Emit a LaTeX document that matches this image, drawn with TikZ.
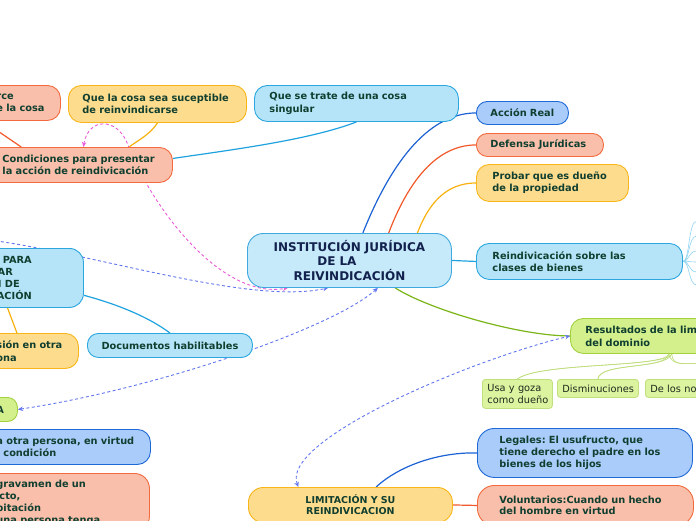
\documentclass[tikz,border=0pt]{standalone}
\usepackage{fontspec}
\setmainfont{DejaVu Sans}
\usetikzlibrary{arrows.meta}
\pgfdeclarelayer{bg}
\pgfsetlayers{bg,main}
\frenchspacing
\definecolor{tcol}{HTML}{103F30}
\definecolor{navy}{HTML}{12214D}
\definecolor{subt}{HTML}{1E2A1E}
\definecolor{cyF}{HTML}{B5E4F9}\definecolor{cyD}{HTML}{2BA6DE}
\definecolor{ceF}{HTML}{C6EAF9}\definecolor{ceD}{HTML}{3FA9DF}
\definecolor{blF}{HTML}{A9CCFB}\definecolor{blD}{HTML}{1F69D6}
\definecolor{saF}{HTML}{F9BFAA}\definecolor{saD}{HTML}{F26A3D}
\definecolor{yeF}{HTML}{FEDC8E}\definecolor{yeD}{HTML}{F9B61A}
\definecolor{grF}{HTML}{D3F08D}\definecolor{grD}{HTML}{A2D13E}
\definecolor{sbF}{HTML}{DCF3A0}\definecolor{sbD}{HTML}{C0E07E}
\definecolor{cBlue}{HTML}{1D62D3}
\definecolor{cRed}{HTML}{F15A2B}
\definecolor{cYel}{HTML}{F9B10F}
\definecolor{cCyan}{HTML}{1FA3E0}
\definecolor{cGreen}{HTML}{7CB518}
\definecolor{cFan}{HTML}{8ED4F3}
\definecolor{cBr}{HTML}{BEDD78}
\definecolor{dBlue}{HTML}{6276F0}
\definecolor{dPink}{HTML}{E95BD8}
\newcommand\nb[1]{\mbox{#1}}
\begin{document}
\frenchspacing
\begin{tikzpicture}[x=1pt,y=-1pt,
  bx/.style={draw, line width=0.9pt, anchor=north west, align=left, inner ysep=0pt, text=tcol,
    font=\bfseries\fontsize{9.8pt}{12.5pt}\selectfont, rounded corners=13pt},
  cyB/.style={fill=cyF, draw=cyD},
  ceB/.style={fill=ceF, draw=ceD},
  blB/.style={fill=blF, draw=blD},
  saB/.style={fill=saF, draw=saD},
  yeB/.style={fill=yeF, draw=yeD},
  grB/.style={fill=grF, draw=grD},
  sub/.style={draw=sbD, fill=sbF, line width=0.8pt, rounded corners=3pt, anchor=north west,
    align=left, inner xsep=5pt, inner ysep=0pt, text=subt, font=\fontsize{9.8pt}{12pt}\selectfont},
  conn/.style={line width=1.2pt},
  dsh/.style={line width=0.9pt, dash pattern=on 3pt off 2.5pt},
  tip/.style={-{Stealth[length=5pt,width=4.5pt]}},
  tips/.style={{Stealth[length=5pt,width=4.5pt]}-{Stealth[length=5pt,width=4.5pt]}},
  fanl/.style={draw=cFan, line width=0.6pt},
  brl/.style={draw=cBr, line width=0.6pt}
]
\useasboundingbox (0,0) rectangle (696,520);
\begin{pgfonlayer}{bg}
\fill[white] (0,0) rectangle (696,520);
\end{pgfonlayer}

% nodes
\node[bx,saB,minimum width=77pt,minimum height=35pt,text width=51pt,inner xsep=13pt] (rce) at (-17,85) {rce\\e la cosa};
\node[bx,yeB,minimum width=178pt,minimum height=37pt,text width=150pt,inner xsep=14pt] (cosa) at (68,85) {\nb{Que la cosa sea suceptible}\\de reinvindicarse};
\node[bx,cyB,minimum width=204pt,minimum height=36pt,text width=174pt,inner xsep=15pt] (trate) at (254,85) {Que se trate de una cosa\\singular};
\node[bx,saB,minimum width=185pt,minimum height=35pt,text width=155pt,inner xsep=15pt] (cond) at (-13,147) {\nb{Condiciones para presentar}\\\nb{la acción de reindivicación}};

\node[bx,blB,minimum width=92pt,minimum height=23pt,text width=64pt,inner xsep=14pt,rounded corners=11pt] (acc) at (476,101) {\nb{Acción Real}};
\node[bx,saB,minimum width=127pt,minimum height=23pt,text width=99pt,inner xsep=14pt,rounded corners=11pt] (def) at (476,133) {\nb{Defensa Jurídicas}};
\node[bx,yeB,minimum width=152pt,minimum height=37pt,text width=120pt,inner xsep=16pt] (prob) at (476,164) {\nb{Probar que es dueño}\\de la propiedad};
\node[bx,cyB,minimum width=206pt,minimum height=36pt,text width=174pt,inner xsep=16pt] (rein) at (476,243) {\nb{Reindivicación sobre las}\\clases de bienes};
\node[bx,grB,minimum width=200pt,minimum height=35pt,text width=170pt,inner xsep=15pt] (res) at (570,318) {\nb{Resultados de la limitación}\\del dominio};
\node[sub,minimum width=70pt,minimum height=29pt,text width=60pt] (usa) at (482,379) {\nb{Usa y goza}\\\nb{como dueño}};
\node[sub,minimum width=81pt,minimum height=18pt,text width=71pt] (dis) at (557,379) {\nb{Disminuciones}};
\node[sub,minimum width=120pt,minimum height=18pt,text width=110pt] (delos) at (645,379) {De los no};

\node[bx,ceB,text=navy,align=center,font=\bfseries\fontsize{12pt}{14.5pt}\selectfont,minimum width=204pt,minimum height=54pt,text width=188pt,inner xsep=8pt,rounded corners=16pt] (cent) at (247,233) {INSTITUCIÓN JURÍDICA\\\mbox{DE LA\hspace{25pt}}\\REIVINDICACIÓN};

\node[bx,cyB,minimum width=120pt,minimum height=59pt,rounded corners=14pt] (req) at (-37,248) {};
\node[anchor=east,align=right,inner sep=0pt,text=tcol,font=\bfseries\fontsize{9.8pt}{12pt}\selectfont] (reqt) at (32,278) {PARA\\\mbox{AR\hspace{19pt}}\\\mbox{N DE\hspace{12pt}}\\ACIÓN};

\node[bx,yeB,minimum width=95pt,minimum height=35pt,text width=69pt,inner xsep=13pt] (pos) at (-17,333) {\nb{sión en otra}\\ona};
\node[bx,grB,minimum width=34pt,minimum height=24pt,text width=8pt,inner xsep=13pt,rounded corners=10pt] (abox) at (-17,397) {A};
\node[bx,blB,minimum width=167pt,minimum height=35pt,text width=141pt,inner xsep=13pt] (otra) at (-17,429) {\nb{a otra persona, en virtud}\\\hspace*{7pt}condición};
\node[bx,saB,font=\bfseries\fontsize{9.8pt}{12pt}\selectfont,minimum width=166pt,minimum height=58pt,text width=140pt,inner xsep=13pt,rounded corners=15pt] (grav) at (-17,473) {gravamen de un\\\hspace*{3pt}cto,\\bitación\\\nb{una persona tenga}};
\node[bx,cyB,align=center,minimum width=165pt,minimum height=24pt,text width=139pt,inner xsep=13pt,rounded corners=11pt] (doc) at (87,333) {\nb{Documentos habilitables}};

\node[bx,yeB,align=center,font=\bfseries\fontsize{9.5pt}{11pt}\selectfont,minimum width=204pt,minimum height=35pt,text width=180pt,inner xsep=12pt,rounded corners=15pt] (lim) at (248,487) {LIMITACIÓN Y SU\\REINDIVICACION};
\node[bx,blB,font=\bfseries\fontsize{9.8pt}{11.7pt}\selectfont,minimum width=215pt,minimum height=49pt,text width=171pt,inner xsep=22pt,rounded corners=17pt] (leg) at (477,428) {\nb{Legales: El usufructo, que}\\\nb{tiene derecho el padre en los}\\bienes de los hijos};
\node[bx,saB,font=\bfseries\fontsize{9.8pt}{11.7pt}\selectfont,minimum width=216pt,minimum height=40pt,text width=172pt,inner xsep=22pt,rounded corners=17pt] (vol) at (477,485) {\nb{Voluntarios:Cuando un hecho}\\del hombre en virtud};

\coordinate (lfar) at (-10,240);
\coordinate (brR1) at (700,364);

\begin{pgfonlayer}{bg}
% solid connectors
\draw[conn,cBlue] (cent.64) .. controls (388,170) and (425,113) .. (acc.west);
\draw[conn,cRed] (cent.35) .. controls (405,190) and (432,145) .. (def.west);
\draw[conn,cYel] (cent.22) .. controls (428,205) and (445,183) .. (prob.west);
\draw[conn,cCyan] (cent.east) -- (rein.west);
\draw[conn,cGreen] (cent.-31.5) .. controls (430,310) and (520,336) .. (res.west);
\draw[conn,cCyan] (cond.4) .. controls (230,150) and (310,140) .. (trate.south);
\draw[conn,cYel] (cosa.south) .. controls (150,135) and (135,142) .. (cond.20);
\draw[conn,cRed] (rce.south west) -- (cond.163);
\draw[conn,cCyan] (req.-16) .. controls (120,305) and (150,318) .. (doc.north);
\draw[conn,cYel] (req.-118) -- (pos.128);
\draw[conn,cBlue] (lim.35) .. controls (400,465) and (440,452) .. (leg.west);
\draw[conn,cRed] (lim.east) -- (vol.west);
% fan
\foreach \yy in {221,236,251,262,272,285}
  \draw[fanl] (rein.east) .. controls (690,261) and (688,\yy) .. (697,\yy);
% branches
\foreach \dx in {-1.5,1.5} {
  \draw[brl] ([xshift=\dx pt]res.south) .. controls (665,368) and (540,362) .. (usa.north);
  \draw[brl] ([xshift=\dx pt]res.south) .. controls (666,370) and (600,362) .. (dis.north);
  \draw[brl] ([xshift=\dx pt]res.south) .. controls (672,368) and (688,362) .. (brR1);
}
% dashed relations
\draw[dsh,dPink,tips] (cond.79) .. controls (88,117) and (118,117) .. (128,145) .. controls (150,204) and (220,300) .. (cent.-156);
\draw[dsh,dBlue,tip] (lfar) .. controls (100,255) and (250,305) .. (cent.-128);
\draw[dsh,dBlue,tips] (abox.east) .. controls (150,390) and (330,330) .. (cent.-44);
\draw[dsh,dBlue,tips] (lim.161) .. controls (280,440) and (470,360) .. (res.west);
\end{pgfonlayer}
\end{tikzpicture}
\end{document}
